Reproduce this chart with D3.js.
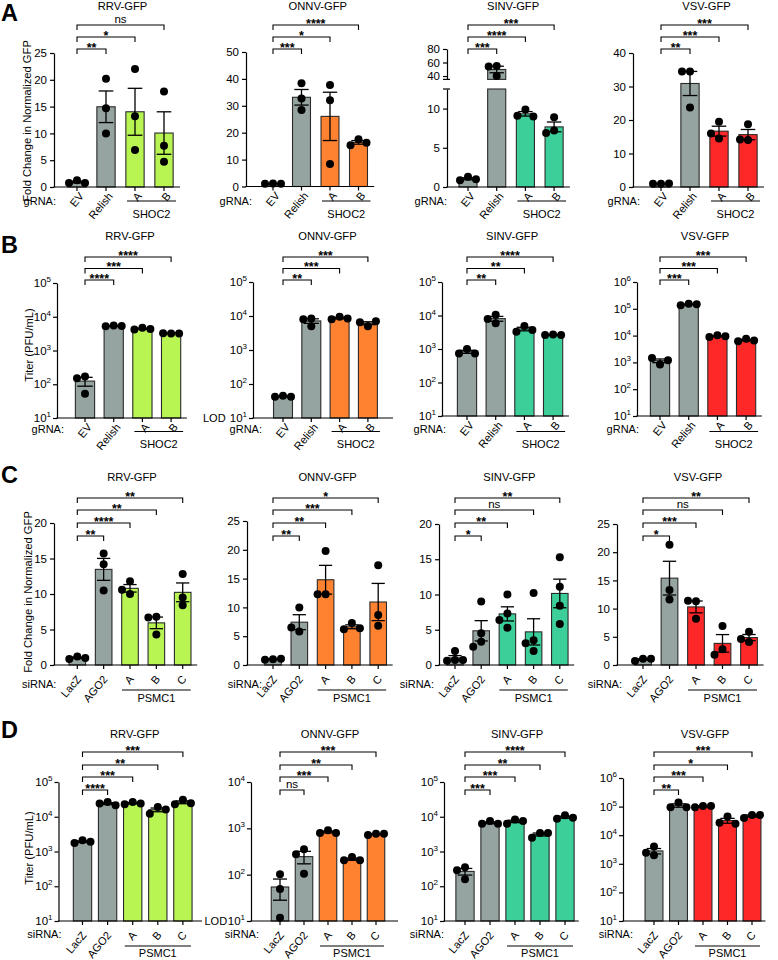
<!DOCTYPE html>
<html><head><meta charset="utf-8">
<script src="https://cdn.jsdelivr.net/npm/d3@7/dist/d3.min.js"></script>
<style>
body{margin:0;background:#fff}
text{font-family:"Liberation Sans",Arial,Helvetica,sans-serif;fill:#000}
</style>
</head><body>
<svg id="fig" width="778" height="960"></svg>
<script>
// ---------------- DATA ----------------
const virusNames = ["RRV-GFP","ONNV-GFP","SINV-GFP","VSV-GFP"];
const gRNACats = ["EV","Relish","A","B"];
const siRNACats = ["LacZ","AGO2","A","B","C"];
const gRNAGroup = "SHOC2";
const siRNAGroup = "PSMC1";
const fcLabel = "Fold Change in Normalized GFP";
const titerLabel = "Titer (PFU/mL)";
const panelLetters = ["A","B","C","D"];
const virusColors = ["#b8f552","#ff8231","#3ccf99","#fe2828"];
const ctrlColor = "#95a3a1";

// Panel A: fold change, gRNA
const A_RRV  = [[1.25,0.75,0.75],[20.2,14.7,10.0],[22.0,13.2,6.9],[17.8,7.7,4.7]];
const A_ONNV = [[1.1,1.0,1.0],[38.4,32.7,28.4],[37.7,32.1,8.4],[17.6,15.3,16.3]];
const A_SINV = [[1.3,0.85,1.0],[55,54,40],[9.9,9.1,9.0],[8.9,7.2,6.9]];
const A_VSV  = [[1.0,0.95,1.05],[34.5,34.5,23.7],[19.5,14.5,16.0],[18.7,14.0,14.2]];
// Panel B: titer, gRNA
const B_RRV  = [[52,170,150],[5500,5200,5300],[4700,4200,4300],[3200,3250,3200]];
const B_ONNV = [[45,42,42],[8500,5000,8000],[9500,8000,8500],[5000,6500,7000]];
const B_SINV = [[1000,740,740],[10500,5900,7800],[4900,3300,3700],[2700,2600,2600]];
const B_VSV  = [[830,1450,1200],[155000,135000,147000],[10200,8900,9400],[7700,6100,6600]];
// Panel C: fold change, siRNA
const C_RRV  = [[1.2,0.85,1.0],[15.7,14.2,10.5],[11.8,10.0,10.6],[6.8,6.7,4.3],[12.8,9.5,8.4]];
const C_ONNV = [[1.0,0.9,1.1],[10.0,5.8,6.5],[19.8,12.3,12.3],[7.3,6.2,6.4],[17.3,8.7,6.8]];
const C_SINV = [[2.0,0.7,0.6,0.7],[9.0,4.5,3.3,2.6],[10.0,7.3,6.4,5.3],[10.2,3.5,3.1,2.0],[15.3,11.1,8.4,5.8]];
const C_VSV  = [[1.1,0.7,1.1],[21.3,13.3,11.6],[11.3,11.4,8.2],[6.9,2.8,1.8],[5.9,4.1,4.6]];
// Panel D: titer, siRNA
const D_RRV  = [[2100,1760,1900],[26500,24000,21500],[26500,23000,24000],[19000,12300,16300],[31000,22900,24600]];
const D_ONNV = [[102,49,11.8],[355,275,105],[910,795,795],[240,204,204],[760,720,760]];
const D_SINV = [[355,290,158],[7500,6300,6300],[8300,6300,7500],[3400,2500,3400],[11000,8800,9400]];
const D_VSV  = [[4000,2000,2450],[140000,95000,95000],[105000,95000,105000],[45000,27500,25000],[51000,40000,51000]];

// Significance: [label, target category index], innermost bracket first
const A_sig = [
  [["**",1],["*",2],["ns",3]],
  [["***",1],["*",2],["****",3]],
  [["***",1],["****",2],["***",3]],
  [["**",1],["***",2],["***",3]]
];
const B_sig = [
  [["****",1],["***",2],["****",3]],
  [["**",1],["***",2],["***",3]],
  [["**",1],["**",2],["****",3]],
  [["***",1],["***",2],["***",3]]
];
const C_sig = [
  [["**",1],["****",2],["**",3],["**",4]],
  [["**",1],["**",2],["***",3],["*",4]],
  [["*",1],["**",2],["ns",3],["**",4]],
  [["*",1],["***",2],["ns",3],["**",4]]
];
const D_sig = [
  [["****",1],["***",2],["**",3],["***",4]],
  [["ns",1],["***",2],["**",3],["***",4]],
  [["***",1],["***",2],["**",3],["****",4]],
  [["**",1],["***",2],["*",3],["***",4]]
];

// Tick values
const A_ticks = [[0,5,10,15,20,25],[0,10,20,30,40,50],null,[0,10,20,30,40]];
const A_SINV_lowTicks = [0,5,10];
const A_SINV_highTicks = [40,60,80];
const C_ticks = [[0,5,10,15,20],[0,5,10,15,20,25],[0,5,10,15,20],[0,5,10,15,20,25]];
const B_logExp = [[1,2,3,4,5],[1,2,3,4,5],[1,2,3,4,5],[1,2,3,4,5,6]];
const D_logExp = [[1,2,3,4,5],[1,2,3,4],[1,2,3,4,5],[1,2,3,4,5,6]];
const lodLabel = "LOD";

// ---------------- LAYOUT ----------------
const rows = {
  A:{titleY:9.5, letterY:20.5, bY:[49,37,25], gLabelY:205, grpLineY:201, grpTextY:217.5, grpR:12, lblDx:4.5, lblDy:7,
     xLabel:"gRNA:", yTitle:fcLabel, yTitleX:31, yTitleY:121},
  B:{titleY:239.5, letterY:253, bY:[280,268.5,257], gLabelY:433, grpLineY:431.5, grpTextY:448, grpR:12, lblDx:4.5, lblDy:7,
     xLabel:"gRNA:", yTitle:titerLabel, yTitleX:33, yTitleY:345},
  C:{titleY:480.5, letterY:483, bY:[536,523,510,498], gLabelY:688, grpLineY:690, grpTextY:701.5, grpR:8, lblDx:1.5, lblDy:12,
     xLabel:"siRNA:", yTitle:fcLabel, yTitleX:32, yTitleY:592},
  D:{titleY:738, letterY:738, bY:[790,777,765,752], gLabelY:938, grpLineY:946, grpTextY:957, grpR:8, lblDx:1.5, lblDy:12,
     xLabel:"siRNA:", yTitle:titerLabel, yTitleX:33, yTitleY:848}
};
const layoutA = [
  {ax:54, first:77, step:29, pad:0.37, yb:187, yt:53},
  {ax:246, first:273, step:28.5, pad:0.37, yb:186.5, yt:52},
  {ax:447, first:468, step:28.7, pad:0.37, yb:187, lo:[0,12.5], loR:[187,89], hi:[35,80], hiR:[79.4,49]},
  {ax:633, first:661, step:29, pad:0.37, yb:187, yt:53}
];
const layoutB = [
  {ax:57, first:85, step:28.7, pad:0.33, yb:418, yt:283},
  {ax:253, first:283, step:28.3, pad:0.33, yb:418, yt:282, xEnd:393},
  {ax:442, first:467, step:28.7, pad:0.33, yb:416, yt:282},
  {ax:637, first:660, step:28.7, pad:0.33, yb:416, yt:282}
];
const layoutC = [
  {ax:54, first:77.3, step:26.35, pad:0.37, yb:665, yt:523},
  {ax:247, first:273, step:26.3, pad:0.37, yb:665, yt:521, gEnd:262},
  {ax:439, first:455, step:26.2, pad:0.37, yb:665, yt:524},
  {ax:617, first:643, step:26.5, pad:0.37, yb:665, yt:524}
];
const layoutD = [
  {ax:58.5, first:82.5, step:25.1, pad:0.27, yb:921, yt:782, xEnd:202},
  {ax:251, first:280, step:24, pad:0.27, yb:921, yt:782, xEnd:398},
  {ax:444, first:465, step:25, pad:0.27, yb:921, yt:782},
  {ax:623, first:654, step:24.5, pad:0.27, yb:921, yt:778}
];

const svg = d3.select("#fig");
const TICK_FS = 11.5, XL_FS = 11, LAB_FS = 11.2, R = 4;

function styleAxis(sel){
  sel.selectAll("path,line").attr("stroke","#000").attr("stroke-width",1.2);
  sel.selectAll("text").attr("font-size",TICK_FS).attr("fill","#000")
     .attr("font-family","'Liberation Sans',Arial,sans-serif");
}

function drawPanel(row, col, L, cats, data, sig, kind, ticks){
  const R0 = rows[row];
  const g = svg.append("g");
  const n = cats.length;
  const nCtrl = 2;
  const color = virusColors[col];
  const x = d3.scaleBand().domain(cats)
    .range([L.first - L.step/2, L.first - L.step/2 + L.step*n])
    .paddingInner(L.pad).paddingOuter(L.pad/2);
  const bw = x.bandwidth();
  const cx = i => x(cats[i]) + bw/2;

  let yf, ylo, yhi, y;
  if(kind === "lin"){
    y = d3.scaleLinear().domain([0, ticks[ticks.length-1]]).range([L.yb, L.yt]);
    yf = v => y(v);
  } else if(kind === "log"){
    const exps = ticks;
    y = d3.scaleLog().domain([10**exps[0], 10**exps[exps.length-1]]).range([L.yb, L.yt]);
    yf = v => y(Math.max(v, 10**exps[0]));
  } else {
    ylo = d3.scaleLinear().domain(L.lo).range(L.loR);
    yhi = d3.scaleLinear().domain(L.hi).range(L.hiR);
    yf = v => v > L.lo[1] ? yhi(Math.max(v, L.hi[0])) : ylo(v);
  }

  // bars (mean)
  const stats = data.map(d => ({m:d3.mean(d), s:d3.deviation(d)/Math.sqrt(d.length)}));
  stats.forEach((st,i) => {
    const fill = i < nCtrl ? ctrlColor : color;
    const addRect = (y0,y1) => g.append("rect").attr("x",x(cats[i])).attr("width",bw)
        .attr("y",y0).attr("height",y1 - y0)
        .attr("fill",fill).attr("stroke","#2a2a2a").attr("stroke-width",1.1);
    if(kind === "brk" && st.m > L.lo[1]){
      addRect(L.loR[1], L.yb);
      addRect(yhi(st.m), L.hiR[0]);
    } else {
      addRect(yf(st.m), L.yb);
    }
  });

  // points (simple dodge)
  data.forEach((d,i) => {
    const placed = [];
    d.forEach(v => {
      const py = yf(v);
      let off = 0;
      for(const c of [0,-8,8,-16,16]){
        if(placed.every(p => Math.hypot(p[0]-c, p[1]-py) >= 2*R - 0.6)){ off = c; break; }
      }
      placed.push([off, py]);
      g.append("circle").attr("cx",cx(i)+off).attr("cy",py).attr("r",R).attr("fill","#000");
    });
  });

  // error bars (SEM)
  stats.forEach((st,i) => {
    const y1 = yf(st.m + st.s), y0 = yf(Math.max(st.m - st.s, 1e-9));
    const c = cx(i), cw = bw*0.4;
    g.append("line").attr("x1",c).attr("x2",c).attr("y1",y1).attr("y2",y0)
      .attr("stroke","#000").attr("stroke-width",1.3);
    [y1,y0].forEach(yy => g.append("line").attr("x1",c-cw).attr("x2",c+cw).attr("y1",yy).attr("y2",yy)
      .attr("stroke","#000").attr("stroke-width",1.3));
  });

  // y axis
  if(kind === "lin"){
    g.append("g").attr("transform",`translate(${L.ax},0)`)
      .call(d3.axisLeft(y).tickValues(ticks).tickSize(4).tickSizeOuter(0).tickPadding(3))
      .call(styleAxis);
  } else if(kind === "log"){
    g.append("g").attr("transform",`translate(${L.ax},0)`)
      .call(d3.axisLeft(y).tickValues(ticks.map(e=>10**e)).tickFormat(()=>"").tickSize(4).tickSizeOuter(0))
      .call(styleAxis);
    ticks.forEach(e => {
      const t = g.append("text").attr("x",L.ax-6).attr("y",y(10**e)+4)
        .attr("text-anchor","end").attr("font-size",TICK_FS);
      t.append("tspan").text("10");
      t.append("tspan").attr("dy",-5).attr("font-size",8).text(String(e));
    });
  } else {
    g.append("g").attr("transform",`translate(${L.ax},0)`)
      .call(d3.axisLeft(ylo).tickValues(A_SINV_lowTicks).tickSize(4).tickSizeOuter(0).tickPadding(3))
      .call(styleAxis);
    g.append("g").attr("transform",`translate(${L.ax},0)`)
      .call(d3.axisLeft(yhi).tickValues(A_SINV_highTicks).tickSize(4).tickSizeOuter(0).tickPadding(3))
      .call(styleAxis);
    [L.loR[1], L.hiR[0]].forEach(yy => g.append("line")
      .attr("x1",L.ax-4).attr("x2",L.ax+3).attr("y1",yy).attr("y2",yy)
      .attr("stroke","#000").attr("stroke-width",1.2));
  }

  // x axis
  const xEnd = L.xEnd || (cx(n-1) + L.step*0.55);
  g.append("line").attr("x1",L.ax-0.6).attr("x2",xEnd).attr("y1",L.yb).attr("y2",L.yb)
    .attr("stroke","#000").attr("stroke-width",1.2);
  cats.forEach((c,i) => {
    g.append("line").attr("x1",cx(i)).attr("x2",cx(i)).attr("y1",L.yb).attr("y2",L.yb+4)
      .attr("stroke","#000").attr("stroke-width",1.2);
    g.append("text").attr("transform",`translate(${cx(i)+R0.lblDx},${L.yb+R0.lblDy}) rotate(-50)`)
      .attr("text-anchor","end").attr("dy","0.35em").attr("font-size",XL_FS).text(c);
  });
  g.append("text").attr("x",L.gEnd || (L.first-21)).attr("y",R0.gLabelY).attr("text-anchor","end")
    .attr("font-size",XL_FS).text(R0.xLabel);

  // group line & label
  const gx1 = cx(nCtrl) - 8, gx2 = cx(n-1) + R0.grpR;
  g.append("line").attr("x1",gx1).attr("x2",gx2).attr("y1",R0.grpLineY).attr("y2",R0.grpLineY)
    .attr("stroke","#000").attr("stroke-width",1.2);
  g.append("text").attr("x",(gx1+gx2)/2).attr("y",R0.grpTextY).attr("text-anchor","middle")
    .attr("font-size",XL_FS).text(row === "A" || row === "B" ? gRNAGroup : siRNAGroup);

  // significance brackets
  sig.forEach((s,k) => {
    const yy = R0.bY[k], x1 = cx(0), x2 = cx(s[1]);
    g.append("path").attr("d",`M${x1},${yy+5}V${yy}H${x2}V${yy+5}`)
      .attr("fill","none").attr("stroke","#000").attr("stroke-width",1.1);
    const isNs = s[0] === "ns";
    g.append("text").attr("x",(x1+x2)/2).attr("y", isNs ? yy-2.5 : yy+2.5)
      .attr("text-anchor","middle").attr("font-size", isNs ? 11.5 : 12.5)
      .attr("font-weight", isNs ? "normal" : "bold").text(s[0]);
  });

  // title
  g.append("text").attr("x",(cx(0)+cx(n-1))/2 + 2).attr("y",R0.titleY).attr("text-anchor","middle")
    .attr("font-size",LAB_FS).text(virusNames[col]);

  // y title & panel letter
  if(col === 0){
    g.append("text").attr("transform",`translate(${R0.yTitleX},${R0.yTitleY}) rotate(-90)`)
      .attr("text-anchor","middle").attr("font-size",LAB_FS).text(R0.yTitle);
    svg.append("text").attr("x",1).attr("y",R0.letterY).attr("font-size",23.5)
      .attr("font-weight","bold").text(panelLetters["ABCD".indexOf(row)]);
  }
}

const Adata = [A_RRV,A_ONNV,A_SINV,A_VSV];
const Bdata = [B_RRV,B_ONNV,B_SINV,B_VSV];
const Cdata = [C_RRV,C_ONNV,C_SINV,C_VSV];
const Ddata = [D_RRV,D_ONNV,D_SINV,D_VSV];

for(let c=0;c<4;c++){
  drawPanel("A", c, layoutA[c], gRNACats, Adata[c], A_sig[c], c===2 ? "brk" : "lin", A_ticks[c]);
  drawPanel("B", c, layoutB[c], gRNACats, Bdata[c], B_sig[c], "log", B_logExp[c]);
  drawPanel("C", c, layoutC[c], siRNACats, Cdata[c], C_sig[c], "lin", C_ticks[c]);
  drawPanel("D", c, layoutD[c], siRNACats, Ddata[c], D_sig[c], "log", D_logExp[c]);
}
// LOD labels
svg.append("text").attr("x",203).attr("y",422).attr("font-size",11).text(lodLabel);
svg.append("text").attr("x",204.5).attr("y",925).attr("font-size",11).text(lodLabel);
</script>
</body></html>
